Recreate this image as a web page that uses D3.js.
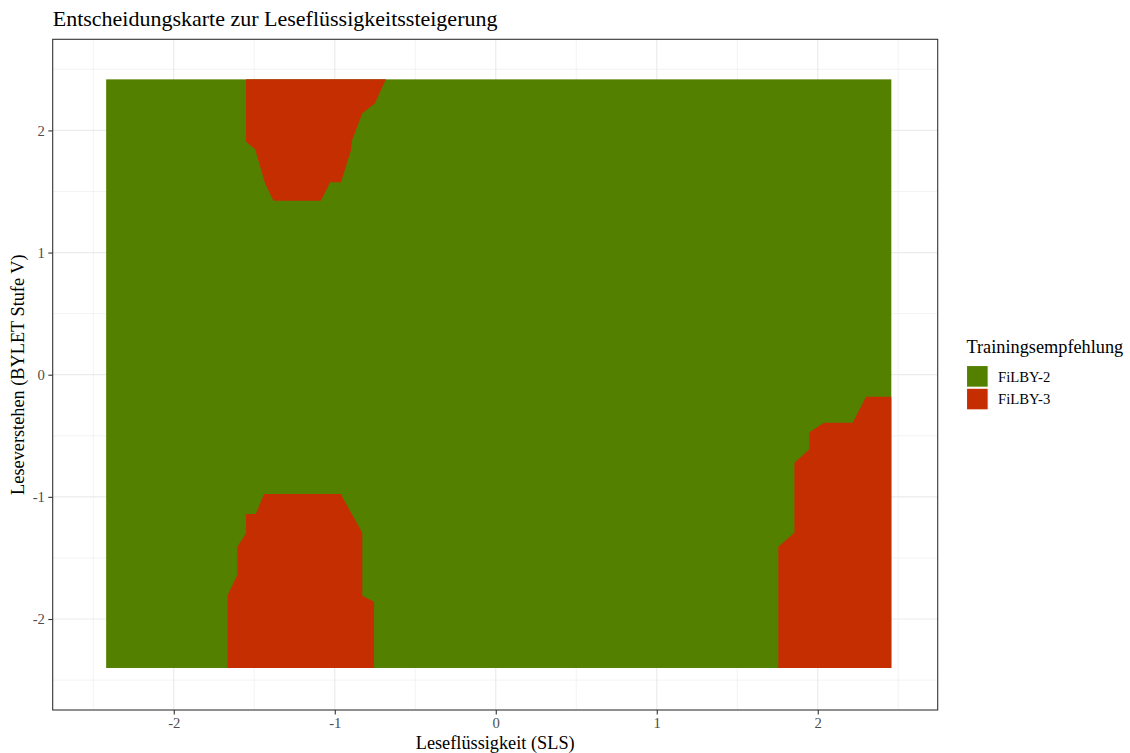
<!DOCTYPE html>
<html>
<head>
<meta charset="utf-8">
<script src="https://cdn.jsdelivr.net/npm/d3@7"></script>
<style>
  html, body { margin: 0; padding: 0; background: #ffffff; }
  svg { display: block; }
  text { font-family: "Liberation Serif", "Times New Roman", serif; }
</style>
</head>
<body>
<svg id="chart" width="1130" height="753"></svg>
<script>
// Recommendation classes and their fill colours
const trainingLevels = ["FiLBY-2", "FiLBY-3"];
const levelFills = ["#548000", "#C42E00"];

// Axis ticks
const xTicks = [-2, -1, 0, 1, 2];
const yTicks = [-2, -1, 0, 1, 2];
const xMinorTicks = [-2.5, -1.5, -0.5, 0.5, 1.5, 2.5];
const yMinorTicks = [-2.5, -1.5, -0.5, 0.5, 1.5, 2.5];

// Extent of the evaluated grid (SLS x BYLET), classified as FiLBY-2 by default
const gridSLS = [-2.420, 2.457];
const gridBYLET = [-2.401, 2.418];

// Regions where FiLBY-3 is recommended: [SLS, BYLET] boundary vertices
const regionUpper = [
  [-1.551, 2.418], [-1.551, 1.907], [-1.495, 1.845], [-1.433, 1.567],
  [-1.381, 1.424], [-1.087, 1.424], [-1.029, 1.575], [-0.961, 1.575],
  [-0.899, 1.839], [-0.894, 1.913], [-0.829, 2.140], [-0.750, 2.222],
  [-0.683, 2.418]
];
const regionLower = [
  [-1.439, -0.977], [-0.963, -0.977], [-0.829, -1.293], [-0.829, -1.809],
  [-0.756, -1.858], [-0.756, -2.401], [-1.665, -2.401], [-1.665, -1.803],
  [-1.605, -1.640], [-1.605, -1.408], [-1.551, -1.298], [-1.551, -1.140],
  [-1.491, -1.140]
];
const regionRight = [
  [2.300, -0.180], [2.457, -0.180], [2.457, -2.401], [1.755, -2.401],
  [1.755, -1.408], [1.855, -1.293], [1.855, -0.720], [1.948, -0.611],
  [1.948, -0.472], [2.039, -0.393], [2.217, -0.393]
];
const fiLBY3Regions = [regionUpper, regionLower, regionRight];

// Text
const chartTitle = "Entscheidungskarte zur Leseflüssigkeitssteigerung";
const xTitle = "Leseflüssigkeit (SLS)";
const yTitle = "Leseverstehen (BYLET Stufe V)";
const legendTitle = "Trainingsempfehlung";

// Layout
const panel = { left: 52.7, right: 937.7, top: 39.3, bottom: 710 };
const fontTitle = 22, fontAxisTitle = 18.3, fontTick = 14.7;

const svg = d3.select("#chart");

const x = d3.scaleLinear().domain([-2.752, 2.745]).range([panel.left, panel.right]);
const y = d3.scaleLinear().domain([-2.745, 2.746]).range([panel.bottom, panel.top]);
const fill = d3.scaleOrdinal().domain(trainingLevels).range(levelFills);

// Panel background
svg.append("rect")
  .attr("x", panel.left).attr("y", panel.top)
  .attr("width", panel.right - panel.left).attr("height", panel.bottom - panel.top)
  .attr("fill", "#ffffff");

// Grid lines
const grid = svg.append("g").attr("class", "grid");
grid.selectAll("line.xminor").data(xMinorTicks).join("line")
  .attr("x1", d => x(d)).attr("x2", d => x(d))
  .attr("y1", panel.top).attr("y2", panel.bottom)
  .attr("stroke", "#EBEBEB").attr("stroke-width", 0.6);
grid.selectAll("line.yminor").data(yMinorTicks).join("line")
  .attr("y1", d => y(d)).attr("y2", d => y(d))
  .attr("x1", panel.left).attr("x2", panel.right)
  .attr("stroke", "#EBEBEB").attr("stroke-width", 0.6);
grid.selectAll("line.xmajor").data(xTicks).join("line")
  .attr("x1", d => x(d)).attr("x2", d => x(d))
  .attr("y1", panel.top).attr("y2", panel.bottom)
  .attr("stroke", "#EBEBEB").attr("stroke-width", 1.2);
grid.selectAll("line.ymajor").data(yTicks).join("line")
  .attr("y1", d => y(d)).attr("y2", d => y(d))
  .attr("x1", panel.left).attr("x2", panel.right)
  .attr("stroke", "#EBEBEB").attr("stroke-width", 1.2);

// Decision regions
const regions = svg.append("g").attr("class", "regions");
regions.append("rect")
  .attr("x", x(gridSLS[0])).attr("y", y(gridBYLET[1]))
  .attr("width", x(gridSLS[1]) - x(gridSLS[0]))
  .attr("height", y(gridBYLET[0]) - y(gridBYLET[1]))
  .attr("fill", fill("FiLBY-2"));

const outline = d3.line().x(d => x(d[0])).y(d => y(d[1]));
regions.selectAll("path.fil3").data(fiLBY3Regions).join("path")
  .attr("class", "fil3")
  .attr("d", d => outline(d) + "Z")
  .attr("fill", fill("FiLBY-3"));

// Panel border
svg.append("rect")
  .attr("x", panel.left).attr("y", panel.top)
  .attr("width", panel.right - panel.left).attr("height", panel.bottom - panel.top)
  .attr("fill", "none").attr("stroke", "#333333").attr("stroke-width", 1.1);

// Axes
const xAxis = svg.append("g")
  .attr("transform", `translate(0,${panel.bottom})`)
  .call(d3.axisBottom(x).tickValues(xTicks).tickSize(4.4).tickPadding(3.4).tickFormat(d => String(d)));
const yAxis = svg.append("g")
  .attr("transform", `translate(${panel.left},0)`)
  .call(d3.axisLeft(y).tickValues(yTicks).tickSize(4.4).tickPadding(3.4).tickFormat(d => String(d)));
[xAxis, yAxis].forEach(g => {
  g.select(".domain").remove();
  g.selectAll(".tick line").attr("stroke", "#333333").attr("stroke-width", 1.1);
  g.selectAll(".tick text")
    .attr("fill", "#4D4D4D")
    .style("font-family", "'Liberation Serif', 'Times New Roman', serif")
    .style("font-size", fontTick + "px");
});

// Titles
svg.append("text")
  .attr("x", panel.left).attr("y", 26)
  .attr("font-size", fontTitle + "px").attr("fill", "#000")
  .text(chartTitle);

svg.append("text")
  .attr("x", (panel.left + panel.right) / 2).attr("y", 748.5)
  .attr("text-anchor", "middle")
  .attr("font-size", fontAxisTitle + "px").attr("fill", "#000")
  .text(xTitle);

svg.append("text")
  .attr("transform", `translate(24,${(panel.top + panel.bottom) / 2}) rotate(-90)`)
  .attr("text-anchor", "middle")
  .attr("font-size", fontAxisTitle + "px").attr("fill", "#000")
  .text(yTitle);

// Legend
const legend = svg.append("g").attr("transform", "translate(966.5,0)");
legend.append("text")
  .attr("x", 0).attr("y", 353)
  .attr("font-size", fontAxisTitle + "px").attr("fill", "#000")
  .text(legendTitle);
const keys = legend.selectAll("g.key").data(trainingLevels).join("g")
  .attr("class", "key")
  .attr("transform", (d, i) => `translate(0,${365.5 + i * 22.7})`);
keys.append("rect")
  .attr("width", 21.7).attr("height", 21.7)
  .attr("fill", d => fill(d))
  .attr("stroke", "#ffffff").attr("stroke-width", 1.1);
keys.append("text")
  .attr("x", 31.5).attr("y", 11)
  .attr("dy", "0.35em")
  .attr("font-size", fontTick + "px").attr("fill", "#000")
  .text(d => d);
</script>
</body>
</html>
